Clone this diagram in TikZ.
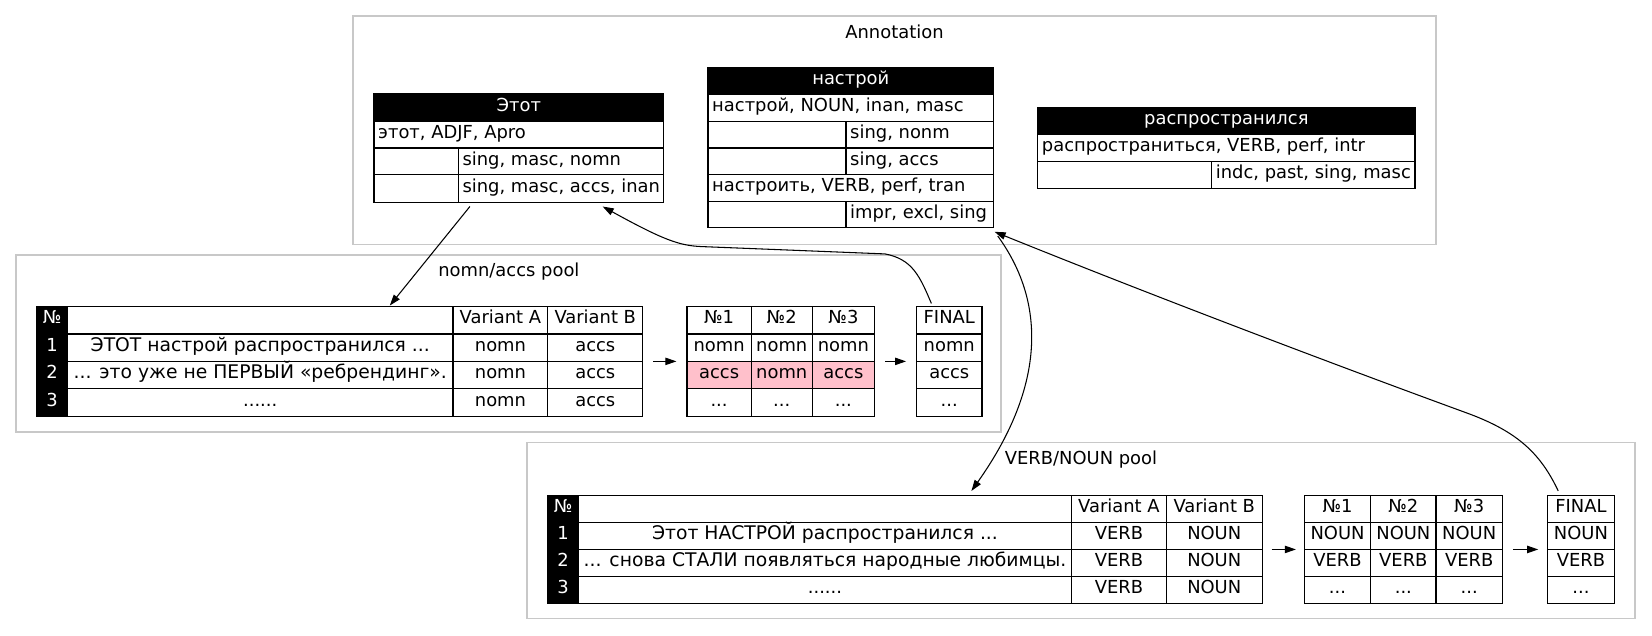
\documentclass[tikz,border=0pt]{standalone}
\usepackage{fontspec}
\setmainfont{DejaVu Sans}
\usetikzlibrary{arrows.meta}
\definecolor{clustergray}{RGB}{200,200,200}
\definecolor{pinkcell}{HTML}{FFC0CB}
% centred cell: [style]{name}{x1}{y1}{x2}{y2}{text}
\newcommand\tcell[7][]{%
  \node[cell,#1,minimum width={#5-#3},minimum height={#6-#4}] (#2) at ({(#3+#5)/2},{(#4+#6)/2}) {#7};}
% left-aligned cell
\newcommand\lcell[7][]{%
  \node[cell,#1,minimum width={#5-#3},minimum height={#6-#4}] (#2) at ({(#3+#5)/2},{(#4+#6)/2}) {};
  \node[celltext,anchor=base west] (#2-t) at ([xshift=4pt,yshift=-3.5pt]#2.west) {#7};}
% plain frame / cluster
\newcommand\framenode[6][]{%
  \node[frame,#1,minimum width={#5-#3},minimum height={#6-#4}] (#2) at ({(#3+#5)/2},{(#4+#6)/2}) {};}
\begin{document}
\begin{tikzpicture}[x=1pt,y=-1pt,
  font=\fontsize{17}{20}\selectfont,
  cell/.style={draw=black,line width=1.1pt,inner sep=0pt,outer sep=0pt,text height=11pt,text depth=4pt},
  celltext/.style={inner sep=0pt,outer sep=0pt},
  hdr/.style={fill=black,text=white},
  pinkc/.style={fill=pinkcell},
  sent/.style={font=\fontsize{17.8}{20}\selectfont},
  frame/.style={inner sep=0pt,outer sep=0pt,draw=none},
  clusterbox/.style={frame,draw=clustergray,line width=1.4pt},
  clabel/.style={inner sep=0pt},
  edge/.style={line width=1pt,-{Triangle[length=10.5pt,width=7pt]}},
  flow/.style={edge,shorten <=10pt,shorten >=10pt}]
\useasboundingbox (0,0) rectangle (1568,603);

% ---------------- clusters ----------------
\framenode[clusterbox]{annot}{335}{15}{1363}{232}
\node[clabel] (annotL) at (849,30) {Annotation};
\framenode[clusterbox]{poolA}{15}{242}{950}{410}
\node[clabel] (poolAL) at (483,258) {nomn/accs pool};
\framenode[clusterbox]{poolB}{500}{420}{1552}{587}
\node[clabel] (poolBL) at (1026,436) {VERB/NOUN pool};

% ---------------- Этот ----------------
\framenode{etot}{355}{89}{630}{192}
\tcell[hdr]{etotH}{355}{89}{630}{115}{Этот}
\lcell{etotR1}{355}{115}{630}{140.5}{этот, ADJF, Apro}
\tcell{etotR2a}{355}{140.5}{435}{166}{}
\lcell{etotR2b}{435}{140.5}{630}{166}{sing, masc, nomn}
\tcell{etotR3a}{355}{166}{435}{192}{}
\lcell{etotR3b}{435}{166}{630}{192}{sing, masc, accs, inan}

% ---------------- настрой ----------------
\framenode{nastr}{672}{64}{943}{216}
\tcell[hdr]{nastrH}{672}{64}{943}{89.5}{настрой}
\lcell{nastrR1}{672}{89.5}{943}{115}{настрой, NOUN, inan, masc}
\tcell{nastrR2a}{672}{115}{803}{140.5}{}
\lcell{nastrR2b}{803}{115}{943}{140.5}{sing, nonm}
\tcell{nastrR3a}{672}{140.5}{803}{166}{}
\lcell{nastrR3b}{803}{140.5}{943}{166}{sing, accs}
\lcell{nastrR4}{672}{166}{943}{191}{настроить, VERB, perf, tran}
\tcell{nastrR5a}{672}{191}{803}{216}{}
\lcell{nastrR5b}{803}{191}{943}{216}{impr, excl, sing}

% ---------------- распространился ----------------
\framenode{rasp}{985}{102}{1343}{179}
\tcell[hdr]{raspH}{985}{102}{1343}{127.5}{распространился}
\lcell{raspR1}{985}{127.5}{1343}{153}{распространиться, VERB, perf, intr}
\tcell{raspR2a}{985}{153}{1150}{179}{}
\lcell{raspR2b}{1150}{153}{1343}{179}{indc, past, sing, masc}

% ---------------- nomn/accs pool ----------------
\framenode{tabA}{35}{291}{610}{395}
\tcell[hdr]{tabA00}{35}{291}{64}{317}{№}
\tcell{tabA01}{64}{291}{430}{317}{}
\tcell{tabA02}{430}{291}{520}{317}{Variant A}
\tcell{tabA03}{520}{291}{610}{317}{Variant B}
\tcell[hdr]{tabA10}{35}{317}{64}{343}{1}
\tcell[sent]{tabA11}{64}{317}{430}{343}{ЭТОТ настрой распространился ...}
\tcell{tabA12}{430}{317}{520}{343}{nomn}
\tcell{tabA13}{520}{317}{610}{343}{accs}
\tcell[hdr]{tabA20}{35}{343}{64}{369}{2}
\tcell[sent]{tabA21}{64}{343}{430}{369}{... это уже не ПЕРВЫЙ «ребрендинг».}
\tcell{tabA22}{430}{343}{520}{369}{nomn}
\tcell{tabA23}{520}{343}{610}{369}{accs}
\tcell[hdr]{tabA30}{35}{369}{64}{395}{3}
\tcell{tabA31}{64}{369}{430}{395}{......}
\tcell{tabA32}{430}{369}{520}{395}{nomn}
\tcell{tabA33}{520}{369}{610}{395}{accs}

\framenode{numA}{652}{291}{830}{395}
\tcell{numA01}{652}{291}{713}{317}{№1}
\tcell{numA02}{713}{291}{771}{317}{№2}
\tcell{numA03}{771}{291}{830}{317}{№3}
\tcell{numA11}{652}{317}{713}{343}{nomn}
\tcell{numA12}{713}{317}{771}{343}{nomn}
\tcell{numA13}{771}{317}{830}{343}{nomn}
\tcell[pinkc]{numA21}{652}{343}{713}{369}{accs}
\tcell[pinkc]{numA22}{713}{343}{771}{369}{nomn}
\tcell[pinkc]{numA23}{771}{343}{830}{369}{accs}
\tcell{numA31}{652}{369}{713}{395}{...}
\tcell{numA32}{713}{369}{771}{395}{...}
\tcell{numA33}{771}{369}{830}{395}{...}

\framenode{finA}{870}{291}{932}{395}
\tcell{finA0}{870}{291}{932}{317}{FINAL}
\tcell{finA1}{870}{317}{932}{343}{nomn}
\tcell{finA2}{870}{343}{932}{369}{accs}
\tcell{finA3}{870}{369}{932}{395}{...}

\draw[flow] (tabA.east) -- (numA.west);
\draw[flow] (numA.east) -- (finA.west);

% ---------------- VERB/NOUN pool ----------------
\framenode{tabB}{520}{470}{1198}{573}
\tcell[hdr]{tabB00}{520}{470}{549}{495.75}{№}
\tcell{tabB01}{549}{470}{1017}{495.75}{}
\tcell{tabB02}{1017}{470}{1107}{495.75}{Variant A}
\tcell{tabB03}{1107}{470}{1198}{495.75}{Variant B}
\tcell[hdr]{tabB10}{520}{495.75}{549}{521.5}{1}
\tcell[sent]{tabB11}{549}{495.75}{1017}{521.5}{Этот НАСТРОЙ распространился ...}
\tcell{tabB12}{1017}{495.75}{1107}{521.5}{VERB}
\tcell{tabB13}{1107}{495.75}{1198}{521.5}{NOUN}
\tcell[hdr]{tabB20}{520}{521.5}{549}{547.25}{2}
\tcell[sent]{tabB21}{549}{521.5}{1017}{547.25}{... снова СТАЛИ появляться народные любимцы.}
\tcell{tabB22}{1017}{521.5}{1107}{547.25}{VERB}
\tcell{tabB23}{1107}{521.5}{1198}{547.25}{NOUN}
\tcell[hdr]{tabB30}{520}{547.25}{549}{573}{3}
\tcell{tabB31}{549}{547.25}{1017}{573}{......}
\tcell{tabB32}{1017}{547.25}{1107}{573}{VERB}
\tcell{tabB33}{1107}{547.25}{1198}{573}{NOUN}

\framenode{numB}{1238}{470}{1426}{573}
\tcell{numB01}{1238}{470}{1301}{495.75}{№1}
\tcell{numB02}{1301}{470}{1363}{495.75}{№2}
\tcell{numB03}{1363}{470}{1426}{495.75}{№3}
\tcell{numB11}{1238}{495.75}{1301}{521.5}{NOUN}
\tcell{numB12}{1301}{495.75}{1363}{521.5}{NOUN}
\tcell{numB13}{1363}{495.75}{1426}{521.5}{NOUN}
\tcell{numB21}{1238}{521.5}{1301}{547.25}{VERB}
\tcell{numB22}{1301}{521.5}{1363}{547.25}{VERB}
\tcell{numB23}{1363}{521.5}{1426}{547.25}{VERB}
\tcell{numB31}{1238}{547.25}{1301}{573}{...}
\tcell{numB32}{1301}{547.25}{1363}{573}{...}
\tcell{numB33}{1363}{547.25}{1426}{573}{...}

\framenode{finB}{1469}{470}{1532}{573}
\tcell{finB0}{1469}{470}{1532}{495.75}{FINAL}
\tcell{finB1}{1469}{495.75}{1532}{521.5}{NOUN}
\tcell{finB2}{1469}{521.5}{1532}{547.25}{VERB}
\tcell{finB3}{1469}{547.25}{1532}{573}{...}

\draw[flow,shorten <=9pt,shorten >=8pt] (tabB.east) -- (numB.west);
\draw[flow,shorten <=10pt,shorten >=9pt] (numB.east) -- (finB.west);

% ---------------- connectors between clusters ----------------
\coordinate (etotTail) at (446,196);
\coordinate (tabAin) at (370,290);
\coordinate (etotIn) at (572,196);
\coordinate (finAtail) at (884,288);
\coordinate (nastrTail) at (947,224);
\coordinate (tabBin) at (922,466);
\coordinate (nastrIn) at (944,220);
\coordinate (finBtail) at (1479,466);

\draw[edge] (etotTail) -- (tabAin);
\draw[edge] (finAtail) .. controls (873,262) and (866,246) .. (840,241)
  -- (665,234) .. controls (645,233) and (630,228) .. (etotIn);
\draw[edge] (nastrTail) .. controls (995,290) and (990,370) .. (tabBin);
\draw[edge] (finBtail) .. controls (1462,430) and (1440,410) .. (1395,393)
  .. controls (1250,340) and (1080,275) .. (nastrIn);
\end{tikzpicture}
\end{document}
